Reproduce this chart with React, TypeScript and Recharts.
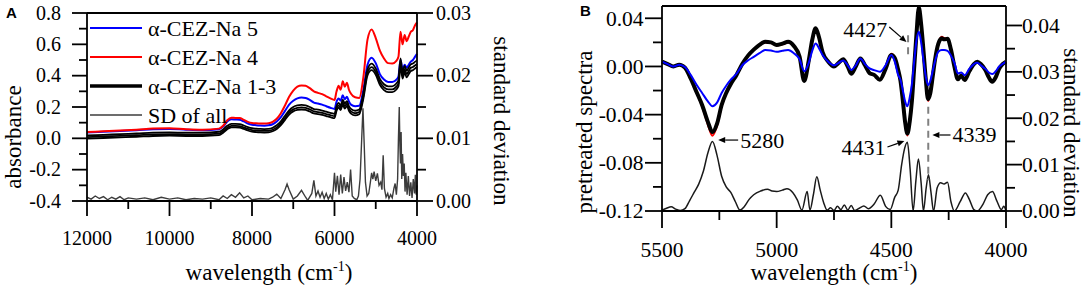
import React from "react";
import { Legend, Line, LineChart, ReferenceLine, XAxis, YAxis } from "recharts";

const SERIF = '"Liberation Serif", "Times New Roman", serif';

// ---------- panel A: raw absorbance spectra ----------
const wnA = [
  12000, 11600, 11200, 10800, 10400, 10000, 9600, 9200, 8800, 8700,
  8600, 8500, 8400, 8300, 8200, 8100, 8000, 7900, 7800, 7700,
  7600, 7500, 7400, 7300, 7200, 7100, 7000, 6900, 6800, 6700,
  6600, 6500, 6400, 6300, 6200, 6100, 6000, 5950, 5900, 5850,
  5800, 5750, 5700, 5650, 5600, 5500, 5400, 5300, 5200, 5100,
  5000, 4900, 4800, 4700, 4600, 4500, 4450, 4400, 4350, 4300,
  4250, 4200, 4150, 4100, 4050, 4000,
];
const na5A = [
  0.038, 0.042, 0.047, 0.052, 0.058, 0.06, 0.055, 0.052, 0.058, 0.075,
  0.108, 0.122, 0.12, 0.118, 0.108, 0.095, 0.087, 0.084, 0.082, 0.081,
  0.083, 0.09, 0.108, 0.135, 0.175, 0.215, 0.24, 0.255, 0.26, 0.257,
  0.245, 0.228, 0.222, 0.215, 0.205, 0.195, 0.188, 0.235, 0.255, 0.24,
  0.275, 0.25, 0.265, 0.235, 0.215, 0.205, 0.208, 0.31, 0.47, 0.515,
  0.48, 0.41, 0.375, 0.36, 0.36, 0.375, 0.395, 0.5, 0.44, 0.47,
  0.45, 0.47, 0.49, 0.5, 0.52, 0.54,
];
const na4A = [
  0.04, 0.045, 0.05, 0.055, 0.062, 0.064, 0.058, 0.055, 0.062, 0.08,
  0.115, 0.132, 0.13, 0.13, 0.118, 0.105, 0.098, 0.096, 0.095, 0.094,
  0.096, 0.105, 0.125, 0.16, 0.21, 0.265, 0.305, 0.33, 0.338, 0.335,
  0.32, 0.3, 0.29, 0.282, 0.268, 0.255, 0.245, 0.3, 0.335, 0.31,
  0.365, 0.33, 0.355, 0.31, 0.285, 0.262, 0.258, 0.39, 0.63, 0.695,
  0.64, 0.56, 0.51, 0.48, 0.478, 0.495, 0.52, 0.68, 0.6, 0.66,
  0.62, 0.65, 0.68, 0.69, 0.72, 0.74,
];
const na1A = [
  0.018, 0.022, 0.027, 0.031, 0.036, 0.038, 0.036, 0.036, 0.042, 0.057,
  0.08, 0.092, 0.092, 0.09, 0.082, 0.072, 0.065, 0.062, 0.06, 0.059,
  0.06, 0.067, 0.083, 0.108, 0.144, 0.179, 0.2, 0.21, 0.213, 0.21,
  0.2, 0.187, 0.183, 0.177, 0.17, 0.163, 0.157, 0.206, 0.226, 0.211,
  0.247, 0.222, 0.238, 0.206, 0.188, 0.176, 0.184, 0.288, 0.44, 0.477,
  0.446, 0.38, 0.345, 0.332, 0.332, 0.35, 0.371, 0.51, 0.422, 0.462,
  0.432, 0.452, 0.472, 0.477, 0.488, 0.498,
];
const na2A = [
  0.008, 0.012, 0.016, 0.02, 0.025, 0.027, 0.025, 0.025, 0.03, 0.045,
  0.068, 0.08, 0.08, 0.078, 0.07, 0.06, 0.053, 0.05, 0.048, 0.047,
  0.048, 0.055, 0.07, 0.095, 0.13, 0.165, 0.185, 0.195, 0.198, 0.195,
  0.185, 0.172, 0.168, 0.162, 0.155, 0.148, 0.142, 0.19, 0.21, 0.195,
  0.23, 0.205, 0.222, 0.19, 0.172, 0.16, 0.168, 0.27, 0.42, 0.455,
  0.425, 0.36, 0.325, 0.312, 0.312, 0.33, 0.35, 0.48, 0.4, 0.44,
  0.41, 0.43, 0.45, 0.455, 0.465, 0.475,
];
const na3A = [
  -0.002, 0.002, 0.006, 0.01, 0.015, 0.017, 0.015, 0.015, 0.02, 0.035,
  0.058, 0.07, 0.07, 0.068, 0.06, 0.05, 0.043, 0.04, 0.038, 0.037,
  0.038, 0.045, 0.06, 0.084, 0.118, 0.152, 0.172, 0.181, 0.184, 0.181,
  0.171, 0.159, 0.155, 0.149, 0.142, 0.135, 0.129, 0.176, 0.196, 0.181,
  0.215, 0.19, 0.207, 0.176, 0.158, 0.146, 0.154, 0.254, 0.402, 0.435,
  0.406, 0.342, 0.308, 0.295, 0.295, 0.312, 0.332, 0.46, 0.382, 0.42,
  0.39, 0.41, 0.43, 0.435, 0.445, 0.455,
];
const wnSdA = [
  12000, 11900, 11800, 11700, 11600, 11500, 11400, 11300, 11200, 11100,
  11000, 10800, 10600, 10400, 10200, 10000, 9800, 9600, 9400, 9200,
  9000, 8800, 8700, 8600, 8500, 8400, 8300, 8200, 8100, 8000,
  7800, 7600, 7500, 7400, 7300, 7200, 7150, 7100, 7000, 6900,
  6800, 6700, 6650, 6550, 6500, 6450, 6400, 6350, 6300, 6250,
  6200, 6150, 6100, 6050, 6000, 5970, 5930, 5890, 5850, 5810,
  5770, 5730, 5690, 5650, 5610, 5570, 5520, 5460, 5420, 5380,
  5340, 5310, 5280, 5250, 5210, 5170, 5130, 5100, 5070, 5040,
  5000, 4960, 4920, 4880, 4850, 4820, 4790, 4750, 4710, 4680,
  4640, 4600, 4560, 4530, 4500, 4470, 4450, 4430, 4415, 4400,
  4385, 4370, 4350, 4330, 4310, 4290, 4270, 4240, 4210, 4180,
  4150, 4120, 4090, 4060, 4040, 4020, 4000,
];
const sdA = [
  0.0006, 0.0003, 0.0008, 0.0004, 0.0007, 0.0002, 0.0006, 0.0003, 0.0007, 0.0002,
  0.0005, 0.0003, 0.0005, 0.0002, 0.0006, 0.0003, 0.0005, 0.0002, 0.0004, 0.0003,
  0.0005, 0.0002, 0.0008, 0.0004, 0.001, 0.0006, 0.0013, 0.0005, 0.0008, 0.0002,
  0.0004, 0.0003, 0.0006, 0.0011, 0.0004, 0.0018, 0.0027, 0.0018, 0.0003, 0.0008,
  0.0017, 0.0006, 0.0001, 0.0012, 0.0033, 0.0008, 0.0016, 0.0006, 0.0014, 0.0004,
  0.0012, 0.0003, 0.001, 0.0002, 0.0045, 0.0015, 0.004, 0.001, 0.0042, 0.0012,
  0.0038, 0.0016, 0.003, 0.0014, 0.005, 0.0008, 0.0004, 0.0002, 0.0008, 0.0035,
  0.01, 0.0148, 0.009, 0.003, 0.0008, 0.0012, 0.003, 0.0045, 0.0035, 0.0047,
  0.0032, 0.0044, 0.0025, 0.003, 0.0018, 0.0073, 0.002, 0.0006, 0.0012, 0.0004,
  0.001, 0.0005, 0.002, 0.0028, 0.001, 0.0035, 0.01, 0.015, 0.009, 0.006,
  0.011, 0.0035, 0.0075, 0.004, 0.006, 0.0015, 0.0045, 0.001, 0.004, 0.0008,
  0.003, 0.0005, 0.0035, 0.0012, 0.0042, 0.001, 0.0025,
];

// ---------- panel B: pretreated spectra ----------
const wnB = [
  5500, 5475, 5450, 5425, 5400, 5375, 5350, 5325, 5300, 5280,
  5260, 5240, 5220, 5200, 5175, 5150, 5125, 5100, 5075, 5050,
  5025, 5000, 4975, 4950, 4925, 4900, 4880, 4860, 4845, 4830,
  4815, 4800, 4775, 4750, 4730, 4710, 4690, 4675, 4655, 4635,
  4615, 4595, 4575, 4550, 4525, 4500, 4485, 4470, 4460, 4450,
  4440, 4430, 4420, 4410, 4400, 4390, 4380, 4370, 4360, 4350,
  4340, 4330, 4320, 4310, 4295, 4280, 4270, 4255, 4240, 4225,
  4210, 4195, 4180, 4160, 4140, 4125, 4110, 4090, 4075, 4060,
  4045, 4030, 4015, 4000,
];
const na5B = [
  0.004, 0.002, 0.0, 0.0015, -0.0005, -0.007, -0.015, -0.022, -0.029, -0.033,
  -0.03, -0.022, -0.016, -0.011, -0.006, 0.001, 0.005, 0.008, 0.011, 0.0136,
  0.0132, 0.0122, 0.013, 0.0136, 0.011, 0.006, -0.004, 0.003, 0.013, 0.019,
  0.015, 0.0095, 0.004, 0.001, 0.003, 0.005, 0.001, -0.003, 0.001, 0.0067,
  0.002, -0.0016, -0.003, -0.0044, 0.001, 0.0095, 0.004, -0.0072, -0.011, -0.0197,
  -0.029, -0.033, -0.026, -0.014, 0.005, 0.022, 0.0289, 0.02, 0.0053, -0.008,
  -0.0155, -0.012, -0.004, 0.004, 0.0122, 0.0136, 0.0136, 0.013, 0.009, 0.003,
  -0.0058, -0.005, -0.0072, -0.002, 0.002, 0.003, 0.001, -0.002, -0.005, -0.0063,
  -0.004, 0.0, 0.002, 0.004,
];
const na4B = [
  0.004, 0.002, 0.0, 0.0015, -0.001, -0.01, -0.021, -0.033, -0.048, -0.0575,
  -0.049, -0.033, -0.022, -0.0145, -0.007, 0.002, 0.009, 0.014, 0.018, 0.02,
  0.0195, 0.0175, 0.0185, 0.02, 0.017, 0.008, -0.012, 0.005, 0.022, 0.031,
  0.024, 0.012, 0.004, 0.0, 0.003, 0.006, 0.0, -0.006, 0.0, 0.0067,
  0.001, -0.0055, -0.007, -0.011, -0.002, 0.0105, 0.007, -0.003, -0.012, -0.028,
  -0.046, -0.0572, -0.046, -0.028, 0.0, 0.028, 0.049, 0.035, 0.0136, -0.01,
  -0.0285, -0.022, -0.009, 0.005, 0.019, 0.0245, 0.0235, 0.023, 0.014, 0.0,
  -0.0107, -0.0075, -0.0113, -0.004, 0.002, 0.0039, 0.002, -0.003, -0.009, -0.0127,
  -0.009, -0.002, 0.002, 0.004,
];
const na13B = [
  0.004, 0.002, 0.0, 0.0015, -0.001, -0.01, -0.021, -0.032, -0.046, -0.0545,
  -0.0475, -0.032, -0.022, -0.0145, -0.007, 0.002, 0.009, 0.014, 0.018, 0.0205,
  0.02, 0.0178, 0.019, 0.0205, 0.017, 0.008, -0.012, 0.005, 0.022, 0.0317,
  0.024, 0.012, 0.004, 0.0, 0.003, 0.006, 0.0, -0.006, 0.0, 0.0067,
  0.001, -0.0055, -0.007, -0.011, -0.002, 0.0095, 0.007, -0.003, -0.012, -0.028,
  -0.046, -0.0557, -0.046, -0.028, 0.0, 0.028, 0.049, 0.035, 0.0136, -0.01,
  -0.027, -0.022, -0.009, 0.005, 0.019, 0.0234, 0.0225, 0.023, 0.014, 0.0,
  -0.0107, -0.0075, -0.0113, -0.004, 0.002, 0.0039, 0.002, -0.003, -0.009, -0.0127,
  -0.009, -0.002, 0.002, 0.004,
];
const wnSdB = [
  5500, 5480, 5460, 5440, 5420, 5400, 5380, 5360, 5340, 5320,
  5300, 5280, 5260, 5240, 5220, 5200, 5180, 5160, 5140, 5120,
  5100, 5070, 5040, 5020, 5000, 4975, 4955, 4930, 4910, 4890,
  4867, 4855, 4840, 4825, 4810, 4795, 4780, 4765, 4750, 4735,
  4720, 4705, 4690, 4675, 4660, 4640, 4620, 4600, 4575, 4548,
  4525, 4505, 4485, 4470, 4455, 4442, 4430, 4418, 4405, 4393,
  4382, 4370, 4360, 4348, 4338, 4327, 4316, 4300, 4285, 4270,
  4255, 4240, 4225, 4200, 4177, 4160, 4140, 4125, 4100, 4080,
  4059, 4040, 4020, 4010, 4000,
];
const sdB = [
  0.0002, 0.0006, 0.0009, 0.0004, 0.0001, 0.0005, 0.0022, 0.004, 0.0058, 0.0085,
  0.0125, 0.015, 0.012, 0.0075, 0.0052, 0.004, 0.002, 0.0002, 0.001, 0.0025,
  0.0035, 0.0043, 0.0047, 0.0043, 0.0042, 0.0045, 0.0048, 0.004, 0.0024, 0.0002,
  0.0042, 0.0002, 0.0035, 0.0074, 0.0045, 0.0018, 0.0002, 0.0007, 0.0001, 0.001,
  0.0003, 0.0013, 0.0002, 0.0012, 0.0001, 0.0006, 0.0011, 0.0005, 0.0015, 0.0034,
  0.001, 0.0003, 0.003, 0.0045, 0.01, 0.0135, 0.0148, 0.009, 0.0, 0.0065,
  0.0112, 0.006, 0.0, 0.005, 0.0078, 0.004, 0.0, 0.005, 0.0061, 0.0058,
  0.0062, 0.002, 0.0, 0.002, 0.0039, 0.0025, 0.0003, 0.0, 0.0015, 0.0035,
  0.0042, 0.0022, 0.0003, 0.001, 0.0,
];

// tick values (majors get a label, the rest are minor ticks)
const xMajorA = [12000, 10000, 8000, 6000, 4000];
const xTicksA = [12000, 11000, 10000, 9000, 8000, 7000, 6000, 5000, 4000];
const yMajorA = [-0.4, -0.2, 0, 0.2, 0.4, 0.6, 0.8];
const yTicksA = [-0.4, -0.3, -0.2, -0.1, 0, 0.1, 0.2, 0.3, 0.4, 0.5, 0.6, 0.7, 0.8];
const sdMajorA = [0, 0.01, 0.02, 0.03];
const sdTicksA = [0, 0.005, 0.01, 0.015, 0.02, 0.025, 0.03];
const xMajorB = [5500, 5000, 4500, 4000];
const xTicksB = [5500, 5250, 5000, 4750, 4500, 4250, 4000];
const yMajorB = [-0.12, -0.08, -0.04, 0, 0.04];
const yTicksB = [-0.12, -0.1, -0.08, -0.06, -0.04, -0.02, 0, 0.02, 0.04];
const sdMajorB = [0, 0.01, 0.02, 0.03, 0.04];
const sdTicksB = [0, 0.005, 0.01, 0.015, 0.02, 0.025, 0.03, 0.035, 0.04];

const legendNames = ["α-CEZ-Na 5", "α-CEZ-Na 4", "α-CEZ-Na 1-3", "SD of all"];

const topB = 0.0502;
const sdTopB = 0.0442;

const BLUE = "#0000ff";
const RED = "#ff0000";
const legendStroke = [BLUE, RED, "#000000", "#3c3c3c"];
const legendWidth = [2.2, 2.2, 3.6, 1.6];

const rowsA = wnA.map((w, i) => ({ w, na5: na5A[i], na4: na4A[i], na1: na1A[i], na2: na2A[i], na3: na3A[i] }));
const sdRowsA = wnSdA.map((w, i) => ({ w, sd: sdA[i] }));
const rowsB = wnB.map((w, i) => ({ w, na5: na5B[i], na4: na4B[i], na13: na13B[i] }));
const sdRowsB = wnSdB.map((w, i) => ({ w, sd: sdB[i] }));

type TickCfg = {
  side: "bottom" | "left" | "right";
  majors: number[];
  digits: number;
  major: number;
  minor: number;
  font: number;
  gap: number;
};

function makeTick(cfg: TickCfg) {
  return function AxisTick(props: any) {
    const { x, y, payload } = props;
    const v = Number(payload.value);
    const isMajor = cfg.majors.some((m) => Math.abs(m - v) < 1e-9);
    const len = isMajor ? cfg.major : cfg.minor;
    const label = isMajor ? v.toFixed(cfg.digits) : null;
    const txt = { fontFamily: SERIF, fontSize: cfg.font, fill: "#000" };
    if (cfg.side === "bottom") {
      return (
        <g>
          <line x1={x} y1={y} x2={x} y2={y + len} stroke="#000" strokeWidth={1.8} />
          {label && (
            <text x={x} y={y + cfg.gap} textAnchor="middle" {...txt}>
              {label}
            </text>
          )}
        </g>
      );
    }
    const s = cfg.side === "left" ? -1 : 1;
    return (
      <g>
        <line x1={x} y1={y} x2={x + s * len} y2={y} stroke="#000" strokeWidth={1.8} />
        {label && (
          <text x={x + s * (cfg.major + cfg.gap)} y={y} dy="0.34em" textAnchor={s < 0 ? "end" : "start"} {...txt}>
            {label}
          </text>
        )}
      </g>
    );
  };
}

function xTitle(dx: number, dy: number) {
  return (props: any) => {
    const vb = props.viewBox || { x: 0, y: 0, width: 0, height: 0 };
    return (
      <text x={vb.x + vb.width / 2 + dx} y={vb.y + dy} textAnchor="middle" fontFamily={SERIF} fontSize={23} fill="#000">
        wavelength (cm
        <tspan dy={-9} fontSize={14}>
          -1
        </tspan>
        <tspan dy={9}>)</tspan>
      </text>
    );
  };
}

function yTitle(text: string, dx: number, dy: number, angle: number) {
  return (props: any) => {
    const vb = props.viewBox || { x: 0, y: 0, width: 0, height: 0 };
    const x = vb.x + dx;
    const y = vb.y + vb.height / 2 + dy;
    return (
      <text x={x} y={y} transform={`rotate(${angle} ${x} ${y})`} textAnchor="middle" fontFamily={SERIF} fontSize={23} fill="#000">
        {text}
      </text>
    );
  };
}

function callout(text: string, anchor: "start" | "end", dy: number) {
  return (p: any) => {
    const { x1, y1, x2, y2 } = p;
    const a = Math.atan2(y2 - y1, x2 - x1);
    const hl = 7;
    const hw = 3;
    const bx = x2 - hl * Math.cos(a);
    const by = y2 - hl * Math.sin(a);
    const nx = -Math.sin(a) * hw;
    const ny = Math.cos(a) * hw;
    const tx = x1 + (anchor === "start" ? 2 : -2);
    return (
      <g>
        <line x1={x1} y1={y1} x2={bx} y2={by} stroke="#000" strokeWidth={1.2} />
        <polygon points={`${x2},${y2} ${bx + nx},${by + ny} ${bx - nx},${by - ny}`} fill="#000" />
        <text x={tx} y={y1 + dy} dy="0.35em" textAnchor={anchor} fontFamily={SERIF} fontSize={22} fill="#000">
          {text}
        </text>
      </g>
    );
  };
}

function LegendA() {
  return (
    <svg width={230} height={118}>
      {legendNames.map((n, i) => (
        <g key={n} transform={`translate(0, ${15 + i * 29})`}>
          <line x1={2} x2={54} y1={0} y2={0} stroke={legendStroke[i]} strokeWidth={legendWidth[i]} />
          <text x={60} y={0} dy="0.36em" fontFamily={SERIF} fontSize={22} fill="#000">
            {n}
          </text>
        </g>
      ))}
    </svg>
  );
}

const axisLine = { stroke: "#000", strokeWidth: 1.8 };

function PanelA() {
  return (
    <LineChart width={540} height={287} margin={{ top: 13, right: 0, bottom: 0, left: 0 }}>
      <XAxis
        type="number"
        dataKey="w"
        domain={[4000, 12000]}
        reversed
        ticks={xTicksA}
        interval={0}
        height={86}
        tickSize={0}
        tickMargin={0}
        tickLine={false}
        axisLine={axisLine}
        tick={makeTick({ side: "bottom", majors: xMajorA, digits: 0, major: 15, minor: 8, font: 20, gap: 44 })}
        label={xTitle(17, 79)}
      />
      <YAxis
        yAxisId="abs"
        type="number"
        domain={[-0.4, 0.8]}
        ticks={yTicksA}
        interval={0}
        width={87}
        tickSize={0}
        tickMargin={0}
        tickLine={false}
        axisLine={axisLine}
        tick={makeTick({ side: "left", majors: yMajorA, digits: 1, major: 15, minor: 8, font: 20, gap: 11 })}
        label={yTitle("absorbance", 21, 30, -90)}
      />
      <YAxis
        yAxisId="sd"
        orientation="right"
        type="number"
        domain={[0, 0.03]}
        ticks={sdTicksA}
        interval={0}
        width={123}
        tickSize={0}
        tickMargin={0}
        tickLine={false}
        axisLine={axisLine}
        tick={makeTick({ side: "right", majors: sdMajorA, digits: 2, major: 16, minor: 9, font: 20, gap: 3 })}
        label={yTitle("standard deviation", 77, 14, 90)}
      />
      <ReferenceLine yAxisId="abs" y={0.8} stroke="#000" strokeWidth={1.8} />
      <Line yAxisId="abs" data={rowsA} dataKey="na5" name="α-CEZ-Na 5" stroke={BLUE} strokeWidth={2} dot={false} activeDot={false} type="monotone" isAnimationActive={false} />
      <Line yAxisId="abs" data={rowsA} dataKey="na4" name="α-CEZ-Na 4" stroke={RED} strokeWidth={2} dot={false} activeDot={false} type="monotone" isAnimationActive={false} />
      <Line yAxisId="abs" data={rowsA} dataKey="na1" name="α-CEZ-Na 1" stroke="#000" strokeWidth={1.8} dot={false} activeDot={false} type="monotone" isAnimationActive={false} />
      <Line yAxisId="abs" data={rowsA} dataKey="na2" name="α-CEZ-Na 2" stroke="#000" strokeWidth={1.8} dot={false} activeDot={false} type="monotone" isAnimationActive={false} />
      <Line yAxisId="abs" data={rowsA} dataKey="na3" name="α-CEZ-Na 3" stroke="#000" strokeWidth={1.8} dot={false} activeDot={false} type="monotone" isAnimationActive={false} />
      <Line yAxisId="sd" data={sdRowsA} dataKey="sd" name="SD of all" stroke="#3c3c3c" strokeWidth={1.4} dot={false} activeDot={false} type="linear" isAnimationActive={false} />
      <Legend
        layout="vertical"
        align="center"
        verticalAlign="middle"
        content={LegendA}
        wrapperStyle={{ left: 88, top: 13, width: 230, height: 118 }}
      />
    </LineChart>
  );
}

function PanelB() {
  return (
    <LineChart width={544} height={287} margin={{ top: 6, right: 0, bottom: 0, left: 0 }}>
      <XAxis
        type="number"
        dataKey="w"
        domain={[4000, 5500]}
        reversed
        ticks={xTicksB}
        interval={0}
        height={76}
        tickSize={0}
        tickMargin={0}
        tickLine={false}
        axisLine={axisLine}
        tick={makeTick({ side: "bottom", majors: xMajorB, digits: 0, major: 17, minor: 9, font: 21.5, gap: 45.5 })}
        label={xTitle(0, 69)}
      />
      <YAxis
        yAxisId="spec"
        type="number"
        domain={[-0.12, topB]}
        ticks={yTicksB}
        interval={0}
        width={122}
        tickSize={0}
        tickMargin={0}
        tickLine={false}
        axisLine={axisLine}
        tick={makeTick({ side: "left", majors: yMajorB, digits: 2, major: 17, minor: 9, font: 21.5, gap: 1.5 })}
        label={yTitle("pretreated spectra", 52, 23.5, -90)}
      />
      <YAxis
        yAxisId="sd"
        orientation="right"
        type="number"
        domain={[0, sdTopB]}
        ticks={sdTicksB}
        interval={0}
        width={78}
        tickSize={0}
        tickMargin={0}
        tickLine={false}
        axisLine={axisLine}
        tick={makeTick({ side: "right", majors: sdMajorB, digits: 2, major: 16, minor: 9, font: 21.5, gap: 0 })}
        label={yTitle("standard deviation", 58, 24.5, 90)}
      />
      <ReferenceLine yAxisId="spec" y={topB} stroke="#000" strokeWidth={1.8} />
      <Line yAxisId="spec" data={rowsB} dataKey="na4" name="α-CEZ-Na 4" stroke={RED} strokeWidth={2.2} dot={false} activeDot={false} type="monotone" isAnimationActive={false} />
      <Line yAxisId="spec" data={rowsB} dataKey="na13" name="α-CEZ-Na 1-3" stroke="#000" strokeWidth={4} dot={false} activeDot={false} type="monotone" isAnimationActive={false} />
      <Line yAxisId="spec" data={rowsB} dataKey="na5" name="α-CEZ-Na 5" stroke={BLUE} strokeWidth={2} dot={false} activeDot={false} type="monotone" isAnimationActive={false} />
      <Line yAxisId="sd" data={sdRowsB} dataKey="sd" name="SD of all" stroke="#1a1a1a" strokeWidth={1.5} dot={false} activeDot={false} type="monotone" isAnimationActive={false} />
      <ReferenceLine yAxisId="spec" segment={[{ x: 4427, y: 0.026 }, { x: 4427, y: 0.008 }]} stroke="#808080" strokeWidth={2} strokeDasharray="7 5" />
      <ReferenceLine yAxisId="spec" segment={[{ x: 4339, y: -0.0335 }, { x: 4339, y: -0.0945 }]} stroke="#808080" strokeWidth={2} strokeDasharray="7 5" />
      <ReferenceLine yAxisId="spec" segment={[{ x: 5168, y: -0.0611 }, { x: 5255, y: -0.0611 }]} shape={callout("5280", "start", 0)} />
      <ReferenceLine yAxisId="spec" segment={[{ x: 4509, y: 0.0328 }, { x: 4434, y: 0.0203 }]} shape={callout("4427", "end", 2)} />
      <ReferenceLine yAxisId="spec" segment={[{ x: 4517, y: -0.0669 }, { x: 4443, y: -0.0619 }]} shape={callout("4431", "end", 0)} />
      <ReferenceLine yAxisId="spec" segment={[{ x: 4242, y: -0.0569 }, { x: 4321, y: -0.0569 }]} shape={callout("4339", "start", -1)} />
    </LineChart>
  );
}

export default function App() {
  return (
    <div style={{ position: "fixed", left: 0, top: 0, width: 1084, height: 287, background: "#fff", overflow: "hidden" }}>
      <div style={{ position: "absolute", left: 0, top: 0 }}>
        <PanelA />
      </div>
      <div style={{ position: "absolute", left: 540, top: 0 }}>
        <PanelB />
      </div>
      <svg width={1084} height={287} style={{ position: "absolute", left: 0, top: 0, pointerEvents: "none" }}>
        <text x={6} y={18} fontFamily="Arial, 'Liberation Sans', sans-serif" fontWeight="bold" fontSize={15} fill="#000">
          A
        </text>
        <text x={580} y={16} fontFamily="Arial, 'Liberation Sans', sans-serif" fontWeight="bold" fontSize={15} fill="#000">
          B
        </text>
      </svg>
    </div>
  );
}
